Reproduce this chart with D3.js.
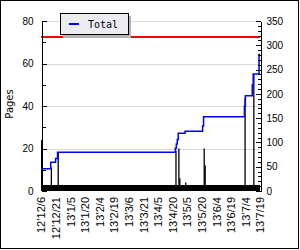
<!DOCTYPE html>
<html>
<head>
<meta charset="utf-8">
<script src="https://cdn.jsdelivr.net/npm/d3@7"></script>
<style>
  html, body { margin: 0; padding: 0; background: #fff; }
  #chart { width: 300px; height: 250px; }
  svg { display: block; font-family: "DejaVu Sans", sans-serif; }
  .axis-g text { font-size: 10px; fill: #000; }
  .axis-g path, .axis-g line { stroke: #000; shape-rendering: crispEdges; }
</style>
</head>
<body>
<div id="chart"></div>
<script>
const xStart = "2012-12-06";
const xEnd = "2013-07-19";
const xTickDates = [
  "2012-12-06", "2012-12-21", "2013-01-05", "2013-01-20", "2013-02-04", "2013-02-19",
  "2013-03-06", "2013-03-21", "2013-04-05", "2013-04-20", "2013-05-05", "2013-05-20",
  "2013-06-04", "2013-06-19", "2013-07-04", "2013-07-19",
];
const leftTicks = [0, 20, 40, 60, 80];
const leftMinorTicks = [10, 30, 50, 70];
const rightTicks = [0, 50, 100, 150, 200, 250, 300, 350];

// cumulative total (right axis), step after each date
const totalDates = [
  "2012-12-06", "2012-12-16", "2012-12-21", "2012-12-23", "2013-04-23", "2013-04-24",
  "2013-04-25", "2013-04-26", "2013-05-03", "2013-05-21", "2013-05-22", "2013-07-03",
  "2013-07-04", "2013-07-11", "2013-07-12", "2013-07-18", "2013-07-19",
];
const totalValues = [46, 59, 67, 80, 88, 97, 106, 119, 123, 134, 153, 175, 196, 218, 241, 281, 281];

// pages per day (left axis)
const pageDates = [
  "2012-12-06", "2012-12-16", "2012-12-23", "2013-04-23", "2013-04-26", "2013-04-27",
  "2013-05-03", "2013-05-22", "2013-05-23", "2013-07-03", "2013-07-12",
];
const pageValues = [24, 11, 18, 19, 20, 6, 4, 20, 12, 44, 55];

const limitPages = 72.5;
const seriesName = "Total";
const leftTitle = "Pages";

class PagesChart {
  constructor({ el }) {
    this.el = el;
    this.setup();
    this.wrangle();
    this.scaffold();
    this.render();
  }

  setup() {
    this.width = 300;
    this.height = 250;
    this.marginLeft = 41;
    this.marginRight = 40;
    this.marginTop = 21;
    this.marginBottom = 59;
    this.bandHeight = 6; // thick black base strip under the bars

    this.parse = d3.timeParse("%Y-%m-%d");
    this.formatTick = (d) => d3.timeFormat("%y")(d) + "\u2019" + d3.timeFormat("%-m/%-d")(d);

    this.x = d3.scaleTime();
    this.yLeft = d3.scaleLinear();
    this.yRight = d3.scaleLinear();
  }

  wrangle() {
    this.x
      .domain([this.parse(xStart), this.parse(xEnd)])
      .range([this.marginLeft, this.width - this.marginRight]);
    const y0 = this.height - this.marginBottom;
    this.yLeft.domain([0, 80]).range([y0, this.marginTop]);
    this.yRight.domain([0, 350]).range([y0, this.marginTop]);

    this.totalSeries = totalDates.map((d, i) => ({ date: this.parse(d), value: totalValues[i] }));
    this.pageSeries = pageDates.map((d, i) => ({ date: this.parse(d), value: pageValues[i] }));
  }

  scaffold() {
    this.svg = d3.select(this.el).append("svg")
      .attr("width", this.width)
      .attr("height", this.height)
      .attr("viewBox", [0, 0, this.width, this.height]);

    this.gridG = this.svg.append("g");
    this.limitG = this.svg.append("g");
    this.barsG = this.svg.append("g");
    this.lineG = this.svg.append("g");
    this.xAxisG = this.svg.append("g").attr("class", "axis-g");
    this.yLeftG = this.svg.append("g").attr("class", "axis-g");
    this.yLeftMinorG = this.svg.append("g").attr("class", "axis-g");
    this.yRightG = this.svg.append("g").attr("class", "axis-g");
    this.yRightMinorG = this.svg.append("g").attr("class", "axis-g");
    this.legendG = this.svg.append("g");
  }

  render() {
    this.renderGrid();
    this.renderLimit();
    this.renderBars();
    this.renderLine();
    this.renderAxes();
    this.renderLegend();
    this.renderFrame();
  }

  renderGrid() {
    this.gridG.selectAll("line")
      .data(leftTicks.filter((d) => d > 0))
      .join("line")
      .attr("x1", this.x.range()[0])
      .attr("x2", this.x.range()[1])
      .attr("y1", (d) => Math.round(this.yLeft(d)) + 0.5)
      .attr("y2", (d) => Math.round(this.yLeft(d)) + 0.5)
      .attr("stroke", "#d9d9d9")
      .attr("shape-rendering", "crispEdges");
  }

  renderLimit() {
    this.limitG.append("line")
      .attr("x1", this.x.range()[0])
      .attr("x2", this.x.range()[1])
      .attr("y1", this.yLeft(limitPages))
      .attr("y2", this.yLeft(limitPages))
      .attr("stroke", "#ff0000")
      .attr("stroke-width", 2);
  }

  renderBars() {
    this.barsG.selectAll("rect.bar")
      .data(this.pageSeries)
      .join("rect")
      .attr("class", "bar")
      .attr("x", (d) => this.x(d.date))
      .attr("width", 1.3)
      .attr("y", (d) => this.yLeft(d.value))
      .attr("height", (d) => this.yLeft(0) - this.yLeft(d.value))
      .attr("fill", "#000");

    const [x0, x1] = this.x.range();
    this.barsG.append("rect")
      .attr("x", x0)
      .attr("width", x1 - x0)
      .attr("y", this.yLeft(0) - this.bandHeight)
      .attr("height", this.bandHeight)
      .attr("fill", "#000");
  }

  renderLine() {
    const line = d3.line()
      .x((d) => this.x(d.date))
      .y((d) => this.yRight(d.value))
      .curve(d3.curveStepAfter);

    this.lineG.append("path")
      .datum(this.totalSeries)
      .attr("d", line)
      .attr("fill", "none")
      .attr("stroke", "#0000ff")
      .attr("stroke-width", 1.5);
  }

  renderAxes() {
    const y0 = this.yLeft(0);
    const [x0, x1] = this.x.range();

    this.xAxisG
      .attr("transform", `translate(0,${y0})`)
      .call(d3.axisBottom(this.x).tickValues(xTickDates.map(this.parse)).tickSize(0).tickFormat(this.formatTick))
      .call((g) => g.select(".domain").remove())
      .call((g) =>
        g.selectAll(".tick text")
          .style("font-size", "11px")
          .attr("transform", "rotate(-90)")
          .attr("text-anchor", "end")
          .attr("x", -6)
          .attr("y", 0)
          .attr("dy", "0.35em")
      );

    this.yLeftG
      .attr("transform", `translate(${x0 + 0.5},0)`)
      .call(d3.axisLeft(this.yLeft).tickValues(leftTicks).tickSize(-5).tickSizeOuter(0).tickPadding(8));
    this.yLeftMinorG
      .attr("transform", `translate(${x0 + 0.5},0)`)
      .call(d3.axisLeft(this.yLeft).tickValues(leftMinorTicks).tickSize(-4).tickSizeOuter(0).tickFormat(""))
      .call((g) => g.select(".domain").remove());

    this.yRightG
      .attr("transform", `translate(${x1 + 0.5},0)`)
      .call(d3.axisRight(this.yRight).tickValues(rightTicks).tickSize(-5).tickSizeOuter(0).tickPadding(6));
    this.yRightMinorG
      .attr("transform", `translate(${x1 + 0.5},0)`)
      .call(
        d3.axisRight(this.yRight)
          .tickValues(d3.range(10, 350, 10).filter((d) => d % 50 !== 0))
          .tickSize(-3)
          .tickSizeOuter(0)
          .tickFormat("")
      )
      .call((g) => g.select(".domain").remove());

    this.svg.append("text")
      .attr("transform", `translate(12.5,${(this.yLeft(0) + this.yLeft(80)) / 2 - 2}) rotate(-90)`)
      .attr("text-anchor", "middle")
      .attr("font-size", 10)
      .text(leftTitle);
  }

  renderLegend() {
    const g = this.legendG.attr("transform", "translate(60,13)");
    g.append("rect").attr("x", 3).attr("y", 3).attr("width", 68).attr("height", 22).attr("fill", "#b4b4b4");
    g.append("rect")
      .attr("x", 0.5).attr("y", 0.5).attr("width", 68).attr("height", 21)
      .attr("fill", "#ecebf1").attr("stroke", "#000");
    g.append("line")
      .attr("x1", 9).attr("x2", 19).attr("y1", 11).attr("y2", 11)
      .attr("stroke", "#0000ff").attr("stroke-width", 2);
    g.append("text")
      .attr("x", 28).attr("y", 11).attr("dy", "0.35em")
      .attr("font-family", "DejaVu Sans Mono, monospace")
      .attr("font-size", 10)
      .text(seriesName);
  }

  renderFrame() {
    this.svg.append("rect")
      .attr("x", 0.5).attr("y", 0.5)
      .attr("width", 298).attr("height", 248)
      .attr("fill", "none").attr("stroke", "#000");
  }
}

const chart = new PagesChart({ el: document.getElementById("chart") });
</script>
</body>
</html>
